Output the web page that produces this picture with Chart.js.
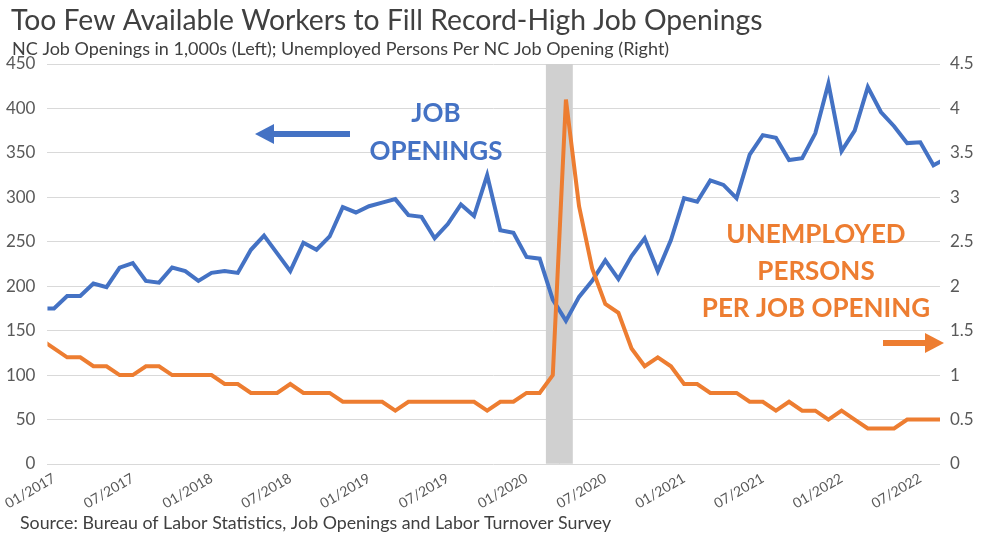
<!DOCTYPE html>
<html>
<head>
<meta charset="utf-8">
<script src="https://cdn.jsdelivr.net/npm/chart.js@4.4.1/dist/chart.umd.min.js"></script>
<style>
  html, body { margin: 0; padding: 0; background: #fff; }
  #wrap { width: 992px; height: 536px; position: relative; }
</style>
</head>
<body>
<div id="wrap"><canvas id="chart" width="992" height="536"></canvas></div>
<script>
// months, 12/2016 and 09/2022 sit just outside the visible range (clipped)
const months = [
  '12/2016',
  '01/2017','02/2017','03/2017','04/2017','05/2017','06/2017','07/2017','08/2017','09/2017','10/2017','11/2017','12/2017',
  '01/2018','02/2018','03/2018','04/2018','05/2018','06/2018','07/2018','08/2018','09/2018','10/2018','11/2018','12/2018',
  '01/2019','02/2019','03/2019','04/2019','05/2019','06/2019','07/2019','08/2019','09/2019','10/2019','11/2019','12/2019',
  '01/2020','02/2020','03/2020','04/2020','05/2020','06/2020','07/2020','08/2020','09/2020','10/2020','11/2020','12/2020',
  '01/2021','02/2021','03/2021','04/2021','05/2021','06/2021','07/2021','08/2021','09/2021','10/2021','11/2021','12/2021',
  '01/2022','02/2022','03/2022','04/2022','05/2022','06/2022','07/2022','08/2022',
  '09/2022'
];

// NC job openings, thousands (left axis)
const jobOpenings = [
  175,
  175, 189, 189, 203, 199, 221, 226, 206, 204, 221, 217, 206,
  215, 217, 215, 241, 257, 237, 217, 249, 241, 256, 289, 283,
  290, 294, 298, 280, 278, 254, 270, 292, 279, 325, 263, 260,
  233, 231, 185, 161, 188, 206, 229, 208, 234, 254, 217, 252,
  299, 295, 319, 314, 299, 348, 370, 367, 342, 344, 372, 428,
  352, 375, 424, 396, 380, 361, 362, 336,
  344
];

// unemployed persons per job opening (right axis)
const unemployedPerOpening = [
  1.4,
  1.3, 1.2, 1.2, 1.1, 1.1, 1.0, 1.0, 1.1, 1.1, 1.0, 1.0, 1.0,
  1.0, 0.9, 0.9, 0.8, 0.8, 0.8, 0.9, 0.8, 0.8, 0.8, 0.7, 0.7,
  0.7, 0.7, 0.6, 0.7, 0.7, 0.7, 0.7, 0.7, 0.7, 0.6, 0.7, 0.7,
  0.8, 0.8, 1.0, 4.1, 2.9, 2.2, 1.8, 1.7, 1.3, 1.1, 1.2, 1.1,
  0.9, 0.9, 0.8, 0.8, 0.8, 0.7, 0.7, 0.6, 0.7, 0.6, 0.6, 0.5,
  0.6, 0.5, 0.4, 0.4, 0.4, 0.5, 0.5, 0.5,
  0.5
];

const recessionMonths = ['03/2020', '04/2020'];
const tickLabels = ['01/2017','07/2017','01/2018','07/2018','01/2019','07/2019',
  '01/2020','07/2020','01/2021','07/2021','01/2022','07/2022'];
const firstMonth = '01/2017';
const lastMonth = '08/2022';
const leftMax = 450;
const rightMax = 4.5;

const BLUE = '#4472C4';
const ORANGE = '#ED7D31';
const FONT = 'Lato, "Open Sans", sans-serif';

const recessionBand = months.map(m => recessionMonths.includes(m) ? leftMax : null);

const textPlugin = {
  id: 'texts',
  afterDraw(chart) {
    const ctx = chart.ctx;
    ctx.save();
    ctx.textBaseline = 'middle';
    ctx.textAlign = 'left';
    ctx.fillStyle = '#404040';
    ctx.font = '28.3px ' + FONT;
    ctx.fillText('Too Few Available Workers to Fill Record-High Job Openings', 11, 21);
    ctx.font = '18px ' + FONT;
    ctx.fillText('NC Job Openings in 1,000s (Left); Unemployed Persons Per NC Job Opening (Right)', 12, 49);
    ctx.font = '17.8px ' + FONT;
    ctx.fillText('Source: Bureau of Labor Statistics, Job Openings and Labor Turnover Survey', 20, 523);

    // annotations
    ctx.textAlign = 'center';
    ctx.font = 'bold 26px ' + FONT;
    ctx.fillStyle = BLUE;
    ctx.fillText('JOB', 436, 114);
    ctx.fillText('OPENINGS', 436, 152);
    ctx.fillStyle = ORANGE;
    ctx.fillText('UNEMPLOYED', 816, 235);
    ctx.fillText('PERSONS', 816, 272);
    ctx.fillText('PER JOB OPENING', 816, 309);

    // arrows
    ctx.lineWidth = 6;
    ctx.strokeStyle = BLUE;
    ctx.fillStyle = BLUE;
    ctx.beginPath(); ctx.moveTo(350, 134); ctx.lineTo(270, 134); ctx.stroke();
    ctx.beginPath(); ctx.moveTo(255, 134); ctx.lineTo(274, 124); ctx.lineTo(274, 144); ctx.closePath(); ctx.fill();
    ctx.strokeStyle = ORANGE;
    ctx.fillStyle = ORANGE;
    ctx.beginPath(); ctx.moveTo(883, 343); ctx.lineTo(928, 343); ctx.stroke();
    ctx.beginPath(); ctx.moveTo(944, 343); ctx.lineTo(925, 333); ctx.lineTo(925, 353); ctx.closePath(); ctx.fill();
    ctx.restore();
  }
};

new Chart(document.getElementById('chart'), {
  type: 'line',
  data: {
    labels: months,
    datasets: [
      {
        label: 'Unemployed Persons Per Job Opening',
        data: unemployedPerOpening,
        yAxisID: 'y1',
        borderColor: ORANGE,
        borderWidth: 4,
        pointRadius: 0,
        tension: 0,
        clip: 0,
        order: 0
      },
      {
        label: 'Job Openings',
        data: jobOpenings,
        yAxisID: 'y',
        borderColor: BLUE,
        borderWidth: 4,
        pointRadius: 0,
        tension: 0,
        clip: 0,
        order: 1
      },
      {
        type: 'bar',
        label: 'Recession',
        data: recessionBand,
        yAxisID: 'y',
        backgroundColor: '#D0D0D0',
        borderWidth: 0,
        barPercentage: 1,
        categoryPercentage: 1,
        clip: 0,
        order: 2
      }
    ]
  },
  options: {
    responsive: false,
    animation: false,
    events: [],
    layout: { padding: { top: 64, left: 0, right: 0, bottom: 0 } },
    plugins: {
      legend: { display: false },
      tooltip: { enabled: false },
      title: { display: false }
    },
    scales: {
      x: {
        type: 'category',
        offset: true,
        grid: { display: false, drawTicks: false },
        border: { display: false },
        ticks: {
          autoSkip: false,
          minRotation: 30,
          maxRotation: 30,
          padding: 6,
          color: '#595959',
          font: { family: FONT, size: 14 },
          callback(value) {
            const lab = this.getLabelForValue(value);
            return tickLabels.includes(lab) ? lab : '';
          }
        },
        // show 01/2017..08/2022; the neighbouring months only feed the clipped line ends
        afterDataLimits(scale) {
          scale.min = months.indexOf(firstMonth);
          scale.max = months.indexOf(lastMonth);
        },
        afterFit(scale) { scale.height = 72; }
      },
      y: {
        position: 'left',
        min: 0,
        max: leftMax,
        grid: { color: '#D9D9D9', lineWidth: 1, drawTicks: false },
        border: { display: false },
        ticks: {
          stepSize: 50,
          padding: 12,
          color: '#595959',
          font: { family: FONT, size: 17 }
        },
        afterFit(scale) { scale.width = 47; }
      },
      y1: {
        position: 'right',
        min: 0,
        max: rightMax,
        grid: { display: false, drawTicks: false },
        border: { display: false },
        ticks: {
          stepSize: 0.5,
          padding: 10,
          color: '#595959',
          font: { family: FONT, size: 17 },
          callback: v => String(v)
        },
        afterFit(scale) { scale.width = 52; }
      }
    }
  },
  plugins: [textPlugin]
});
</script>
</body>
</html>
